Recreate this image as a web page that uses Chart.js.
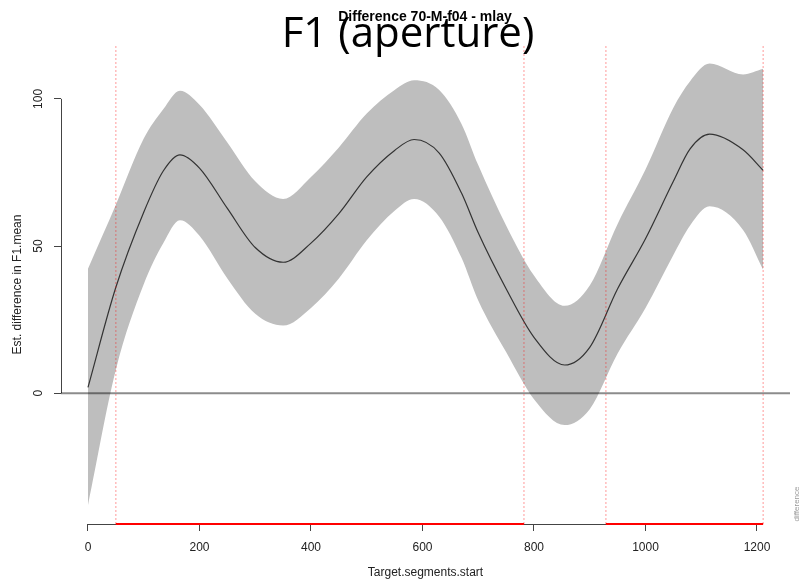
<!DOCTYPE html>
<html>
<head>
<meta charset="utf-8">
<script src="https://cdn.jsdelivr.net/npm/chart.js@4.4.1/dist/chart.umd.min.js"></script>
<style>
  html, body { margin: 0; padding: 0; background: #fff; }
  #wrap { width: 800px; height: 586px; }
</style>
</head>
<body>
<div id="wrap"><canvas id="diffChart" width="800" height="586"></canvas></div>
<script>
// values
const xPos     = [0, 50, 100, 135, 165, 200, 250, 300, 350, 400, 450, 500, 550, 585, 630, 670, 700, 750, 800, 855, 900, 950, 1000, 1050, 1080, 1115, 1175, 1211];
const meanDiff = [2, 36, 61.5, 75.5, 81, 76.5, 62.8, 49.5, 44.5, 51, 61, 73.5, 82.5, 86.2, 81.6, 68, 54.5, 35.5, 19, 9.6, 15.6, 35.5, 52.5, 72, 83, 88, 82.7, 75.7];
const upperCI  = [42.3, 64, 86.5, 96.5, 102.8, 98, 85.2, 72, 66, 73.5, 83.5, 95, 103, 106.3, 103, 91.5, 77.5, 57, 40, 29.7, 36.6, 57.5, 76, 97, 106, 112, 108.3, 110.2];
const lowerCI  = [-38, 8, 37, 51, 58.8, 53.5, 39, 27, 23, 29, 39, 52, 62, 66, 60, 46, 31.5, 14, -2, -10.8, -5.4, 13.5, 29, 47, 57, 63.5, 55.5, 42];

const xTicks = [0, 200, 400, 600, 800, 1000, 1200];
const yTicks = [0, 50, 100];
const sigRegions = [[50, 782], [929, 1211]];

const xRange = [-48.4, 1259.2];
const yRange = [-44.4, 118.3];

const FONT = "'Liberation Sans', Arial, Helvetica, sans-serif";

function pts(ys) {
    return xPos.map((x, i) => ({ x: x, y: ys[i] }));
}

const datasets = [
    {
        label: "upper",
        data: pts(upperCI),
        borderWidth: 0,
        backgroundColor: "rgb(190,190,190)",
        fill: "+1",
        cubicInterpolationMode: "monotone",
        pointRadius: 0,
        order: 10
    },
    {
        label: "lower",
        data: pts(lowerCI),
        borderWidth: 0,
        fill: false,
        cubicInterpolationMode: "monotone",
        pointRadius: 0,
        order: 10
    },
    {
        label: "mean",
        data: pts(meanDiff),
        borderColor: "#333",
        borderWidth: 1.2,
        fill: false,
        cubicInterpolationMode: "monotone",
        pointRadius: 0,
        order: 8
    },
    {
        label: "zero",
        data: [{ x: xRange[0], y: 0 }, { x: xRange[1], y: 0 }],
        borderColor: "rgba(0,0,0,0.45)",
        borderWidth: 2,
        fill: false,
        pointRadius: 0,
        order: 6
    }
];

// dotted verticals at the edges of the significant regions
sigRegions.flat().forEach(function (x) {
    datasets.push({
        label: "edge",
        data: [{ x: x, y: yRange[0] }, { x: x, y: yRange[1] }],
        borderColor: "rgba(255,0,0,0.4)",
        borderWidth: 1,
        borderDash: [2, 2],
        fill: false,
        pointRadius: 0,
        order: 4
    });
});

// red bars along the bottom
sigRegions.forEach(function (r) {
    datasets.push({
        label: "sig",
        data: [{ x: r[0], y: yRange[0] }, { x: r[1], y: yRange[0] }],
        borderColor: "#ff0000",
        borderWidth: 2,
        fill: false,
        pointRadius: 0,
        clip: false,
        order: 1
    });
});

const rAxes = {
    id: "rAxes",
    beforeDatasetsDraw(chart) {
        const ctx = chart.ctx;
        const xs = chart.scales.x, ys = chart.scales.y;
        const area = chart.chartArea;
        ctx.save();
        ctx.strokeStyle = "#444";
        ctx.lineWidth = 1;
        ctx.beginPath();
        ctx.moveTo(xs.getPixelForValue(xTicks[0]), area.bottom + 0.5);
        ctx.lineTo(xs.getPixelForValue(xTicks[xTicks.length - 1]), area.bottom + 0.5);
        ctx.moveTo(area.left + 0.5, ys.getPixelForValue(yTicks[0]));
        ctx.lineTo(area.left + 0.5, ys.getPixelForValue(yTicks[yTicks.length - 1]));
        ctx.stroke();
        ctx.restore();
    },
    afterDraw(chart) {
        const ctx = chart.ctx;
        ctx.save();
        ctx.fillStyle = "#000";
        ctx.textAlign = "center";
        ctx.textBaseline = "alphabetic";
        ctx.font = "42px 'Open Sans', Lato, sans-serif";
        ctx.fillText("F1 (aperture)", 408, 47);
        ctx.font = "bold 14px " + FONT;
        ctx.fillText("Difference 70-M-f04 - mlay", 425, 21);

        ctx.translate(797, 504);
        ctx.rotate(-Math.PI / 2);
        ctx.font = "8px " + FONT;
        ctx.fillStyle = "#999";
        ctx.textBaseline = "middle";
        ctx.fillText("difference", 0, 0);
        ctx.restore();
    }
};

new Chart(document.getElementById("diffChart"), {
    type: "line",
    data: { datasets: datasets },
    options: {
        responsive: false,
        animation: false,
        layout: { padding: { top: 45, right: 10, left: 0, bottom: 0 } },
        plugins: {
            legend: { display: false },
            tooltip: { enabled: false },
            title: { display: false }
        },
        scales: {
            x: {
                type: "linear",
                min: xRange[0],
                max: xRange[1],
                afterBuildTicks: function (s) { s.ticks = xTicks.map(v => ({ value: v })); },
                afterFit: function (s) { s.height = 62; },
                border: { display: false },
                grid: { drawOnChartArea: false, drawTicks: true, tickLength: 7, color: "#444" },
                ticks: {
                    color: "#222",
                    font: { family: FONT, size: 12 },
                    padding: 9,
                    maxRotation: 0,
                    callback: v => String(v)
                },
                title: {
                    display: true,
                    text: "Target.segments.start",
                    color: "#222",
                    font: { family: FONT, size: 12 },
                    padding: { top: 0, bottom: 6 }
                }
            },
            y: {
                type: "linear",
                min: yRange[0],
                max: yRange[1],
                afterBuildTicks: function (s) { s.ticks = yTicks.map(v => ({ value: v })); },
                afterFit: function (s) { s.width = 61; },
                border: { display: false },
                grid: { drawOnChartArea: false, drawTicks: true, tickLength: 7, color: "#444" },
                ticks: {
                    color: "#222",
                    font: { family: FONT, size: 12 },
                    minRotation: 90,
                    maxRotation: 90,
                    crossAlign: "center",
                    padding: 5,
                    callback: v => String(v)
                },
                title: {
                    display: true,
                    text: "Est. difference in F1.mean",
                    color: "#222",
                    font: { family: FONT, size: 12 },
                    padding: { top: 10, bottom: 0 }
                }
            }
        }
    },
    plugins: [rAxes]
});
</script>
</body>
</html>
